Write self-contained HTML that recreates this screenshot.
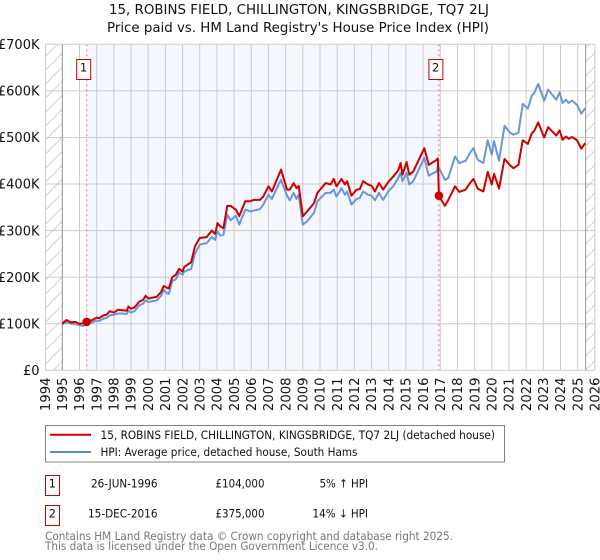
<!DOCTYPE html>
<html lang="en">
<head>
<meta charset="utf-8">
<title>15, Robins Field price paid vs HPI</title>
<style>
html,body{margin:0;padding:0;background:#fff;width:600px;height:560px;overflow:hidden}
svg{display:block}
text{font-family:"DejaVu Sans","Liberation Sans",sans-serif;fill:#111}
</style>
</head>
<body>
<svg id="chart" xmlns="http://www.w3.org/2000/svg" width="600" height="560" viewBox="0 0 600 560">
  <defs>
    <pattern id="hatch" patternUnits="userSpaceOnUse" width="14" height="14" patternTransform="translate(45.5 0)">
      <line x1="0" y1="14" x2="14" y2="0" stroke="#cfcfcf" stroke-width="1"/>
    </pattern>
  </defs>
  <rect x="0" y="0" width="600" height="560" fill="#ffffff"/>
  <text x="109" y="14" font-size="13" textLength="380" lengthAdjust="spacingAndGlyphs">15, ROBINS FIELD, CHILLINGTON, KINGSBRIDGE, TQ7 2LJ</text>
  <text x="107" y="32" font-size="13" textLength="382" lengthAdjust="spacingAndGlyphs">Price paid vs. HM Land Registry's House Price Index (HPI)</text>

  <g id="plot"></g>

  <g>
    <rect x="45.5" y="425.5" width="459" height="36.5" fill="#fff" stroke="#808080" stroke-width="1"/>
    <line x1="50" y1="434.7" x2="91" y2="434.7" stroke="#cc0000" stroke-width="2"/>
    <text x="100.5" y="439" font-size="11.5" textLength="394.5" lengthAdjust="spacingAndGlyphs">15, ROBINS FIELD, CHILLINGTON, KINGSBRIDGE, TQ7 2LJ (detached house)</text>
    <line x1="50" y1="452" x2="91" y2="452" stroke="#5b8bd2" stroke-width="2"/>
    <text x="100.5" y="456" font-size="11.5" textLength="257" lengthAdjust="spacingAndGlyphs">HPI: Average price, detached house, South Hams</text>
  </g>

  <g font-size="11.5">
    <rect x="45.5" y="475.5" width="14" height="20" fill="#fff" stroke="#cc0000" stroke-width="1"/>
    <text x="52.3" y="487.5" font-size="11.5" text-anchor="middle">1</text>
    <text x="91" y="487.5" font-size="11.5" textLength="66.5" lengthAdjust="spacingAndGlyphs">26-JUN-1996</text>
    <text x="215.5" y="487.5" font-size="11.5" textLength="49" lengthAdjust="spacingAndGlyphs">£104,000</text>
    <text x="319.5" y="487.5" font-size="11.5" textLength="48.5" lengthAdjust="spacingAndGlyphs">5% ↑ HPI</text>
    <rect x="45.5" y="505.5" width="14" height="20" fill="#fff" stroke="#cc0000" stroke-width="1"/>
    <text x="52.3" y="517.5" font-size="11.5" text-anchor="middle">2</text>
    <text x="88" y="517.5" font-size="11.5" textLength="69.5" lengthAdjust="spacingAndGlyphs">15-DEC-2016</text>
    <text x="215.5" y="517.5" font-size="11.5" textLength="49" lengthAdjust="spacingAndGlyphs">£375,000</text>
    <text x="312.5" y="517.5" font-size="11.5" textLength="55.5" lengthAdjust="spacingAndGlyphs">14% ↓ HPI</text>
  </g>

  <text x="45" y="540" font-size="11.5" style="fill:#777" textLength="408" lengthAdjust="spacingAndGlyphs">Contains HM Land Registry data © Crown copyright and database right 2025.</text>
  <text x="45" y="550" font-size="11.5" style="fill:#777" textLength="333" lengthAdjust="spacingAndGlyphs">This data is licensed under the Open Government Licence v3.0.</text>
</svg>
<script>
const yearTicks = [1994,1995,1996,1997,1998,1999,2000,2001,2002,2003,2004,2005,2006,2007,2008,2009,2010,2011,2012,2013,2014,2015,2016,2017,2018,2019,2020,2021,2022,2023,2024,2025,2026];
const priceTicks = [0,100,200,300,400,500,600,700];
const priceTickLabels = ["£0","£100K","£200K","£300K","£400K","£500K","£600K","£700K"];
const dates = [1995.0,1995.1,1995.25,1995.5,1995.75,1996.0,1996.2,1996.42,1996.75,1997.0,1997.15,1997.4,1997.6,1997.75,1998.0,1998.25,1998.5,1998.75,1998.85,1999.0,1999.2,1999.5,1999.7,1999.85,2000.0,2000.5,2000.75,2000.9,2001.1,2001.2,2001.4,2001.6,2001.8,2002.0,2002.1,2002.5,2002.72,2003.0,2003.4,2003.7,2003.9,2004.03,2004.2,2004.38,2004.6,2004.8,2005.1,2005.3,2005.65,2005.95,2006.15,2006.5,2006.7,2007.0,2007.2,2007.45,2007.73,2008.08,2008.24,2008.47,2008.63,2008.76,2009.0,2009.25,2009.65,2009.85,2010.33,2010.62,2010.8,2010.96,2011.25,2011.45,2011.58,2011.83,2012.13,2012.32,2012.51,2012.8,2013.0,2013.2,2013.43,2013.68,2013.97,2014.26,2014.55,2014.69,2014.8,2015.04,2015.2,2015.43,2016.07,2016.33,2016.79,2016.86,2016.92,2017.27,2017.47,2017.86,2018.11,2018.48,2018.73,2018.93,2019.18,2019.51,2019.76,2020.0,2020.13,2020.42,2020.74,2021.07,2021.26,2021.55,2021.8,2022.1,2022.33,2022.47,2022.7,2023.05,2023.28,2023.75,2023.95,2024.12,2024.32,2024.47,2024.67,2024.96,2025.21,2025.44];
const pricePaid = [100,104,108,103,104,100,101,104,108,113,112,118,120,127,124,130,129,128,137,132,135,148,151,160,154,158,168,181,177,176,200,205,218,212,222,232,266,284,286,300,293,316,309,305,353,353,345,331,363,363,366,366,373,395,384,406,431,388,388,402,391,396,331,341,359,381,402,399,411,395,411,399,406,375,388,389,406,399,396,384,402,388,404,416,429,445,420,447,420,427,477,441,452,455,375,353,366,395,383,388,402,411,390,384,426,399,422,390,454,440,434,441,494,486,509,514,532,500,522,504,515,495,502,497,501,494,476,488];
const hpiIndex = [98,101,103,100,99,97,95,99,103,107,106,111,113,118,119,122,122,121,128,124,127,140,143,150,147,150,160,173,165,164,192,195,210,205,212,218,250,270,273,286,280,298,289,291,334,322,332,313,345,341,343,346,356,377,368,388,409,375,365,381,368,377,313,320,338,363,381,381,388,373,391,377,384,356,368,370,384,377,375,365,381,366,384,395,413,424,406,424,399,406,456,418,427,438,435,409,413,459,445,450,467,477,452,445,494,463,492,450,525,510,506,510,572,562,590,595,615,579,603,581,597,574,581,574,579,570,551,563];
const sales = [
  {label:"1", date:1996.42, price:104},
  {label:"2", date:2016.92, price:375}
];

const SVGNS = "http://www.w3.org/2000/svg";
const plot = document.getElementById("plot");
function xScale(year){ return 62.3 + (year - 1995) * 17.18; }
function yScale(k){ return 370.3 - k * 0.46571; }
function make(tag, attrs){
  const el = document.createElementNS(SVGNS, tag);
  for (const k in attrs) el.setAttribute(k, attrs[k]);
  plot.appendChild(el);
  return el;
}
const left = 45.5, right = 594.7, top_ = yScale(700), bottom = yScale(0);
const dataStart = xScale(1995), dataEnd = xScale(dates[dates.length - 1]) + 0.4;

const shade = make("rect", {x:xScale(sales[0].date), y:top_, width:xScale(sales[1].date)-xScale(sales[0].date), height:bottom-top_, fill:"#f4f7fe"});



const hatchLeft = make("rect", {x:left, y:top_, width:dataStart-left, height:bottom-top_, fill:"url(#hatch)"});


const hatchRight = make("rect", {x:dataEnd, y:top_, width:right-dataEnd, height:bottom-top_, fill:"url(#hatch)"});



yearTicks.forEach(function(y){
  const x = y === 1994 ? left : xScale(y);
  const g = make("line", {x1:x, x2:x, y1:top_, y2:bottom, stroke:"#cccccc", "stroke-width":1});
  
  
  const t = make("text", {transform:"translate(" + (x + 4.7) + " 377.5) rotate(-90)", "text-anchor":"end", "font-size":13.2});
  
  
  t.textContent = y;
});
priceTicks.forEach(function(p, i){
  const y = yScale(p);
  const g = make("line", {x1:left, x2:right, y1:y, y2:y, stroke:"#cccccc", "stroke-width":1});
  
  
  const t = make("text", {x:39.5, y:y + 4.7, "text-anchor":"end", "font-size":13});
  
  
  t.textContent = priceTickLabels[i];
});

[dataStart, dataEnd].forEach(function(x){
  const a = make("line", {x1:x, x2:x, y1:top_, y2:bottom, stroke:"#999999", "stroke-width":1});
  
  
});

sales.forEach(function(s){
  const x = xScale(s.date);
  const v = make("line", {x1:x, x2:x, y1:top_, y2:bottom, stroke:"#ff6b78", "stroke-width":1, "stroke-dasharray":"2 3"});
  
  
});

function pathFrom(values){
  return values.map(function(v, i){
    return (i ? "L" : "M") + xScale(dates[i]).toFixed(2) + " " + yScale(v).toFixed(2);
  }).join(" ");
}
const hpiLine = make("path", {d:pathFrom(hpiIndex), fill:"none", stroke:"#6a96d6", "stroke-width":2, "stroke-linejoin":"round"});


const paidLine = make("path", {d:pathFrom(pricePaid), fill:"none", stroke:"#cc0000", "stroke-width":2, "stroke-linejoin":"round"});



sales.forEach(function(s){
  const x = xScale(s.date);
  const c = make("circle", {cx:x, cy:yScale(s.price), r:4.3, fill:"#cc0000"});
  
  
  const b = make("rect", {x:x - 10, y:59.5, width:14, height:20, fill:"#fff", stroke:"#cc0000", "stroke-width":1});
  
  
  const t = make("text", {x:x - 3.2, y:71.5, "text-anchor":"middle", "font-size":11.5});
  
  
  t.textContent = s.label;
});
</script>
</body>
</html>
